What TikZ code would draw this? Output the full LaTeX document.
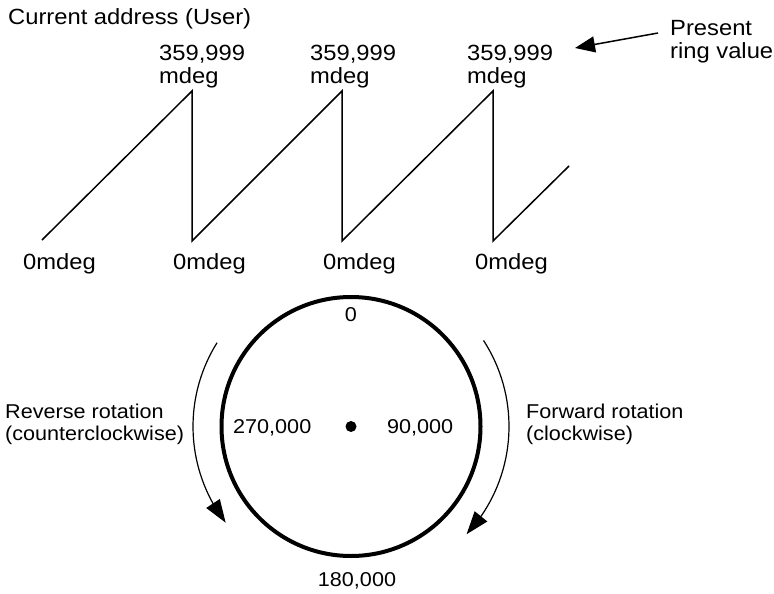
\documentclass[tikz,border=0pt]{standalone}
\usepackage{fontspec}
\setmainfont[FakeStretch=1.08]{Liberation Sans}
\usetikzlibrary{arrows.meta,bending}
\begin{document}
\begin{tikzpicture}[x=1pt,y=1pt,
  lbl/.style={inner sep=0pt,font=\fontsize{22}{23}\selectfont,align=left},
  lbls/.style={inner sep=0pt,font=\fontsize{20}{22}\selectfont,align=left},
  wave/.style={line width=1.5pt,line join=miter},
  rotarrow/.style={line width=1.2pt,-{Triangle[length=23pt,width=16pt,flex]}},
  ptr/.style={line width=1.5pt,-{Triangle[length=20pt,width=16pt]}},
  ringstyle/.style={circle,draw,line width=4pt,minimum size=259pt,inner sep=0pt}]
\useasboundingbox (0,0) rectangle (774,-594);
% title
\node[lbl,anchor=base west] (cur) at (8,-25) {Current address (User)};
% sawtooth
\coordinate (s0) at (42,-240);
\coordinate (t1) at (192,-91);
\coordinate (b1) at (192,-241);
\coordinate (t2) at (342,-91);
\coordinate (b2) at (342,-241);
\coordinate (t3) at (493,-91);
\coordinate (b3) at (493,-241);
\coordinate (s4) at (569,-166);
\draw[wave] (s0) -- (t1) -- (b1) -- (t2) -- (b2) -- (t3) -- (b3) -- (s4);
% peak labels
\node[lbl,anchor=north west] (pk1) at (159,-45) {359,999\\mdeg};
\node[lbl,anchor=north west] (pk2) at (310,-45) {359,999\\mdeg};
\node[lbl,anchor=north west] (pk3) at (467,-45) {359,999\\mdeg};
% zero labels
\node[lbl,anchor=base west] (z0) at (23,-269) {0mdeg};
\node[lbl,anchor=base west] (z1) at (173,-269) {0mdeg};
\node[lbl,anchor=base west] (z2) at (323,-269) {0mdeg};
\node[lbl,anchor=base west] (z3) at (475,-269) {0mdeg};
% present ring value
\node[lbl,anchor=north west] (pres) at (670,-20.5) {Present\\ring value};
\coordinate (pfrom) at (658,-33);
\coordinate (pto) at (575,-48);
\draw[ptr] (pfrom) -- (pto);
% ring
\node[ringstyle] (ring) at (351,-426.5) {};
\fill (ring.center) circle (5.5);
\node[lbls,anchor=base] (l0) at (351,-321) {0};
\node[lbls,anchor=base west] (l270) at (233,-433) {270,000};
\node[lbls,anchor=base west] (l90) at (387,-433) {90,000};
\node[lbls,anchor=base] (l180) at (357,-586) {180,000};
% rotation arrows
\draw[rotarrow] ([shift={(148:158)}]ring.center) arc[start angle=148,end angle=217.5,radius=158];
\draw[rotarrow] ([shift={(33:158)}]ring.center) arc[start angle=33,end angle=-43,radius=158];
\node[lbls,anchor=north west] (rev) at (5,-404) {Reverse rotation\\(counterclockwise)};
\node[lbls,anchor=north west] (fwd) at (526,-404) {Forward rotation\\(clockwise)};
\end{tikzpicture}
\end{document}
